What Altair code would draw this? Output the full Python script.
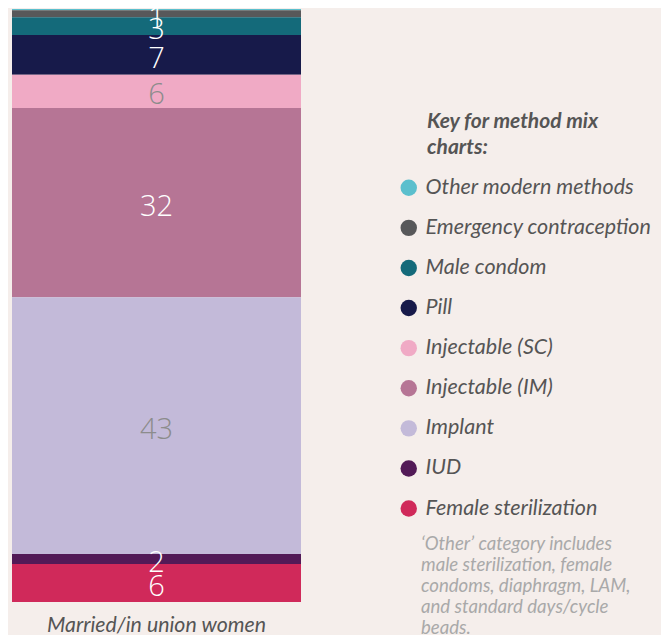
import altair as alt
import pandas as pd

methods = ["Other modern methods", "Emergency contraception", "Male condom", "Pill",
           "Injectable (SC)", "Injectable (IM)", "Implant", "IUD", "Female sterilization"]
values = [0.2, 1.2, 3.0, 6.7, 5.6, 31.9, 43.3, 1.7, 6.4]
labels = ["", "1", "3", "7", "6", "32", "43", "2", "6"]
colors = ["#5bbfcd", "#58585a", "#146a7a", "#171a4a", "#f0aac5",
          "#b67595", "#c3bad9", "#521a57", "#d0295a"]
label_tone = ["light", "light", "light", "light", "dark", "light", "dark", "light", "light"]
stack_order = [8, 7, 6, 5, 4, 3, 2, 1, 0]
group = "Married/in union women"

key_title = "Key for method mix\ncharts:"
footnote = ("\u2018Other\u2019 category includes\nmale sterilization, female\n"
            "condoms, diaphragm, LAM,\nand standard days/cycle\nbeads.")

df = pd.DataFrame({
    "method": methods,
    "value": values,
    "label": labels,
    "tone": label_tone,
    "order": stack_order,
    "group": [group] * len(methods),
})

base = alt.Chart(df)

xenc = alt.X("group:N", title=None,
             scale=alt.Scale(paddingInner=0, paddingOuter=0),
             axis=alt.Axis(labelAngle=0, ticks=False, domain=False, grid=False,
                           labelFont="Lato", labelFontStyle="italic", labelFontSize=21.3,
                           labelColor="#555555", labelPadding=12, labelLimit=0))

bars = base.mark_bar().encode(
    x=xenc,
    y=alt.Y("value:Q", stack="zero", scale=alt.Scale(domain=[0, 100], nice=False), axis=None),
    color=alt.Color("method:N",
                    scale=alt.Scale(domain=methods, range=colors),
                    legend=alt.Legend(orient="none", legendX=386, legendY=168, title=None,
                                      symbolType="circle", symbolSize=270, symbolStrokeWidth=0,
                                      labelFont="Lato", labelFontSize=21.5, labelFontStyle="italic",
                                      labelColor="#555555", labelOffset=6, rowPadding=17.1,
                                      labelLimit=400, padding=0)),
    order=alt.Order("order:Q", sort="ascending"),
)

nums = base.transform_stack(
    stack="value", as_=["y0", "y1"], groupby=["group"],
    sort=[alt.SortField("order", order="ascending")]
).transform_calculate(
    mid="(datum.y0 + datum.y1) / 2"
).mark_text(font="Open Sans", fontWeight=300, fontSize=29, baseline="middle", dy=4).encode(
    x=alt.X("group:N"),
    y=alt.Y("mid:Q"),
    text="label:N",
    color=alt.condition("datum.tone == 'dark'", alt.value("#8c8c8c"), alt.value("#ffffff")),
)

title_txt = alt.Chart(pd.DataFrame({"t": [key_title]})).mark_text(
    align="left", baseline="top", lineBreak="\n", lineHeight=26,
    font="Lato", fontSize=21, fontWeight="bold", fontStyle="italic", color="#555555"
).encode(x=alt.value(415), y=alt.value(102), text="t:N")

note_txt = alt.Chart(pd.DataFrame({"t": [footnote]})).mark_text(
    align="left", baseline="top", lineBreak="\n", lineHeight=21,
    font="Lato", fontSize=18.6, fontStyle="italic", color="#a9a9a9"
).encode(x=alt.value(409), y=alt.value(526), text="t:N")

chart = alt.layer(bars, nums, title_txt, note_txt).properties(
    width=289, height=593,
    padding={"left": 4, "top": 1, "right": 360, "bottom": 40},
    autosize=alt.AutoSizeParams(type="none"),
    background="#f5eeeb",
).configure_view(stroke=None)

chart.save("out.html", embed_options={"renderer": "svg", "actions": False})
